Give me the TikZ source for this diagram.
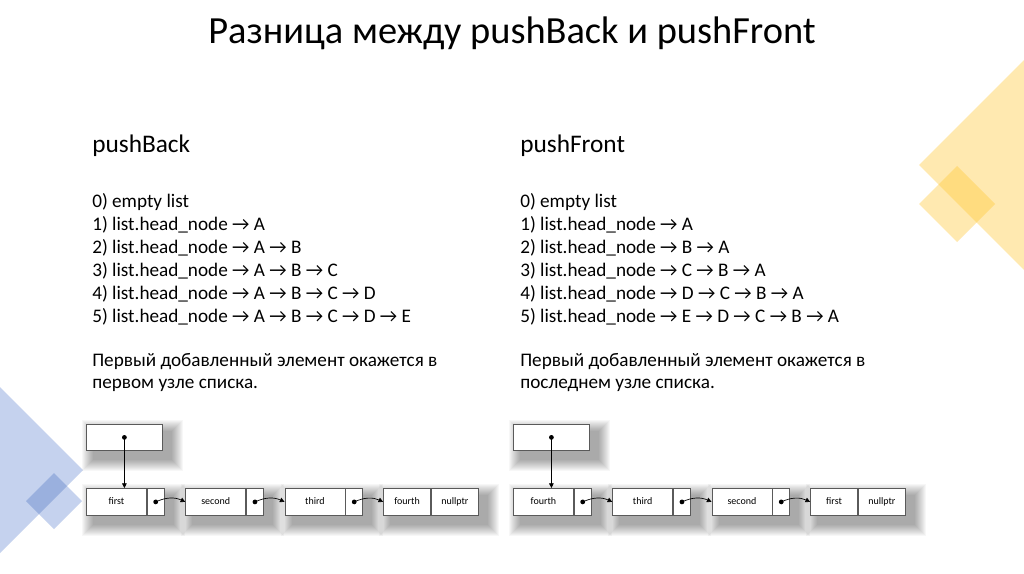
\documentclass[tikz,border=0pt]{standalone}
\usepackage{fontspec}
\setmainfont{Carlito}
\usetikzlibrary{arrows.meta,calc,positioning}
\definecolor{DeckBlue}{RGB}{197,210,238}
\definecolor{DeckBlueDark}{RGB}{154,176,222}
\definecolor{DeckYellow}{RGB}{255,233,176}
\definecolor{DeckYellowDark}{RGB}{255,220,127}
\definecolor{CellLine}{RGB}{90,90,90}
\pgfdeclarelayer{decor}
\pgfdeclarelayer{shade}
\pgfsetlayers{decor,shade,main}
\tikzset{
  cell/.style={draw=CellLine, fill=white, line width=0.6pt, inner sep=0pt,
    minimum height=20.25pt, text height=5.5pt, text depth=1.6pt,
    font=\fontsize{7.5}{9}\selectfont},
  datacell/.style={cell, minimum width=45pt},
  ptrcell/.style={cell, minimum width=12.75pt},
  nullcell/.style={cell, minimum width=35.25pt},
  headcell/.style={cell, minimum width=57pt, minimum height=19.5pt},
  nextptr/.style={-{Triangle[length=3.5pt,width=3.5pt]}, line width=0.5pt},
  bodytext/.style={anchor=base west, inner sep=0pt, font=\fontsize{14.4}{17}\selectfont},
  headtext/.style={anchor=base west, inner sep=0pt, font=\fontsize{19}{23}\selectfont},
}
\newcommand{\softshade}[2]{%
  \foreach \r in {12,11,...,1}{%
    \fill[black, opacity=0.03] ($(#1)+(8-\r,8-\r)$) rectangle ($(#2)+(8+\r,8+\r)$);}}

\begin{document}
\begin{tikzpicture}[x=0.75pt, y=-0.75pt]
    \useasboundingbox (0,0) rectangle (1024,574);

    % corner decoration
    \begin{pgfonlayer}{decor}
    \fill[white] (0,0) rectangle (1024,574);
    \fill[DeckBlue] (0,387) -- (83,470) -- (0,553) -- cycle;
    \fill[DeckBlue] (54,473) -- (82,501) -- (54,529) -- (26,501) -- cycle;
    \begin{scope}
        \clip (0,387) -- (83,470) -- (0,553) -- cycle;
        \fill[DeckBlueDark] (54,473) -- (82,501) -- (54,529) -- (26,501) -- cycle;
    \end{scope}
    \fill[DeckYellow] (1024,60) -- (919,165) -- (1024,270) -- cycle;
    \fill[DeckYellow] (957,166) -- (995,204) -- (957,242) -- (919,204) -- cycle;
    \begin{scope}
        \clip (1024,60) -- (919,165) -- (1024,270) -- cycle;
        \fill[DeckYellowDark] (957,166) -- (995,204) -- (957,242) -- (919,204) -- cycle;
    \end{scope}
    \end{pgfonlayer}

    % title
    \node[anchor=base, inner sep=0pt, font=\fontsize{28.8}{34}\selectfont] (title) at (512,44) {Разница между pushBack и pushFront};

    % pushBack column
    \node[headtext] (backhead) at (92,152) {pushBack};
    \foreach \i/\t in {0/{0) empty list}, 1/{1) list.head\_node → A}, 2/{2) list.head\_node → A → B},
        3/{3) list.head\_node → A → B → C}, 4/{4) list.head\_node → A → B → C → D},
        5/{5) list.head\_node → A → B → C → D → E}}
        \node[bodytext] (bl\i) at (92,{207+23*\i}) {\t};
    \node[bodytext] (bp1) at (92,366) {Первый добавленный элемент окажется в};
    \node[bodytext] (bp2) at (92,388) {первом узле списка.};

    % pushFront column
    \node[headtext] (fronthead) at (520,152) {pushFront};
    \foreach \i/\t in {0/{0) empty list}, 1/{1) list.head\_node → A}, 2/{2) list.head\_node → B → A},
        3/{3) list.head\_node → C → B → A}, 4/{4) list.head\_node → D → C → B → A},
        5/{5) list.head\_node → E → D → C → B → A}}
        \node[bodytext] (fl\i) at (520,{207+23*\i}) {\t};
    \node[bodytext] (fp1) at (520,366) {Первый добавленный элемент окажется в};
    \node[bodytext] (fp2) at (520,388) {последнем узле списка.};

    % pushBack list
    \node[headcell, anchor=north west] (bhead) at (86,424) {};
    \node[datacell, anchor=north west] (b1) at (86,488) {first};
    \node[ptrcell, right=0pt of b1] (b1p) {};
    \node[datacell, right=15.5pt of b1p] (b2) {second};
    \node[ptrcell, right=0pt of b2] (b2p) {};
    \node[datacell, right=15.5pt of b2p] (b3) {third};
    \node[ptrcell, right=0pt of b3] (b3p) {};
    \node[nullcell, right=15pt of b3p] (b4) {fourth};
    \node[nullcell, right=0pt of b4] (b4p) {nullptr};

    % pushFront list
    \node[headcell, anchor=north west] (fhead) at (513,424) {};
    \node[datacell, anchor=north west] (f1) at (513,488) {fourth};
    \node[ptrcell, right=0pt of f1] (f1p) {};
    \node[datacell, right=15.5pt of f1p] (f2) {third};
    \node[ptrcell, right=0pt of f2] (f2p) {};
    \node[datacell, right=15.5pt of f2p] (f3) {second};
    \node[ptrcell, right=0pt of f3] (f3p) {};
    \node[nullcell, right=15pt of f3p] (f4) {first};
    \node[nullcell, right=0pt of f4] (f4p) {nullptr};

    % shadows
    \begin{pgfonlayer}{shade}
    \softshade{bhead.north west}{bhead.south east}
    \softshade{b1.north west}{b1p.south east}
    \softshade{b2.north west}{b2p.south east}
    \softshade{b3.north west}{b3p.south east}
    \softshade{b4.north west}{b4p.south east}
    \softshade{fhead.north west}{fhead.south east}
    \softshade{f1.north west}{f1p.south east}
    \softshade{f2.north west}{f2p.south east}
    \softshade{f3.north west}{f3p.south east}
    \softshade{f4.north west}{f4p.south east}
    \end{pgfonlayer}

    % pointers
    \draw[nextptr] (bhead.center) -- (bhead.center |- b1.north);
    \draw[nextptr] (b1p.center) to[bend left=25] (b2.west);
    \draw[nextptr] (b2p.center) to[bend left=25] (b3.west);
    \draw[nextptr] (b3p.center) to[bend left=25] (b4.west);
    \draw[nextptr] (fhead.center) -- (fhead.center |- f1.north);
    \draw[nextptr] (f1p.center) to[bend left=25] (f2.west);
    \draw[nextptr] (f2p.center) to[bend left=25] (f3.west);
    \draw[nextptr] (f3p.center) to[bend left=25] (f4.west);
    \foreach \p in {bhead,b1p,b2p,b3p,fhead,f1p,f2p,f3p}
        \fill (\p.center) circle (1.8pt);
\end{tikzpicture}
\end{document}
